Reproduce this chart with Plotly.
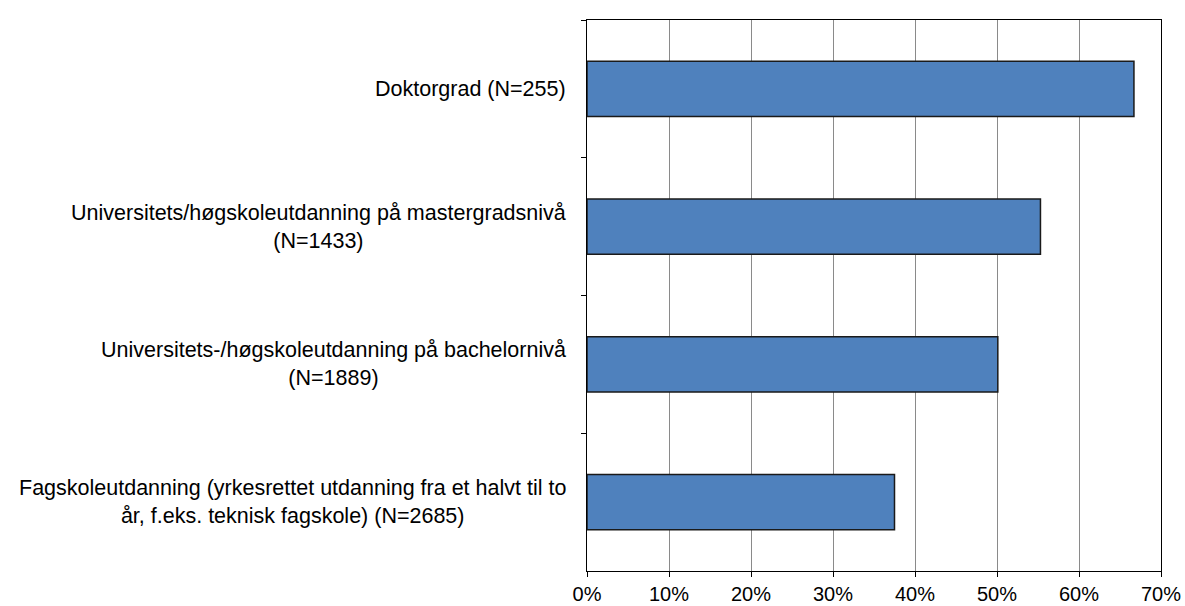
import plotly.graph_objects as go

categories = [
    "Doktorgrad (N=255)",
    "Universitets/høgskoleutdanning på mastergradsnivå<br>(N=1433)",
    "Universitets-/høgskoleutdanning på bachelornivå<br>(N=1889)",
    "Fagskoleutdanning (yrkesrettet utdanning fra et halvt til to<br>år, f.eks. teknisk fagskole) (N=2685)",
]
values = [0.667, 0.553, 0.501, 0.375]
x_ticks = [0, 0.1, 0.2, 0.3, 0.4, 0.5, 0.6, 0.7]
x_ticklabels = ["0%", "10%", "20%", "30%", "40%", "50%", "60%", "70%"]

FONT = "Liberation Sans, Arial, sans-serif"

fig = go.Figure()
fig.add_trace(go.Bar(
    x=values,
    y=categories,
    orientation="h",
    marker=dict(color="#4F81BD", line=dict(color="#1a1a1a", width=1.5)),
    hoverinfo="x+y",
))

for cat in categories:
    fig.add_annotation(
        x=0, xref="paper", y=cat, yref="y",
        text=cat, showarrow=False, xanchor="right", yanchor="middle",
        align="center", xshift=-19,
        font=dict(family=FONT, size=21.5, color="#000000"),
    )

fig.update_layout(
    template="none",
    width=1185, height=606,
    margin=dict(l=587, r=24, t=20, b=35, autoexpand=False),
    paper_bgcolor="white", plot_bgcolor="white",
    bargap=0.6,
    showlegend=False,
    font=dict(family=FONT, size=20, color="#000000"),
)
fig.update_xaxes(
    automargin=False,
    range=[0, 0.7],
    tickvals=x_ticks, ticktext=x_ticklabels,
    showgrid=True, gridcolor="#8a8a8a", gridwidth=1,
    showline=True, linecolor="#000000", linewidth=1, mirror=True,
    ticks="outside", ticklen=5, tickcolor="#000000",
    ticklabelstandoff=0,
    zeroline=False,
    tickfont=dict(family=FONT, size=20, color="#000000"),
)
fig.update_yaxes(
    automargin=False,
    categoryorder="array", categoryarray=categories,
    autorange="reversed",
    showticklabels=False,
    showline=True, linecolor="#000000", linewidth=1, mirror=True,
    ticks="outside", ticklen=5, tickcolor="#000000",
    tickson="boundaries",
    showgrid=False, zeroline=False,
)

fig.write_html("out.html", post_script="document.body.style.margin='0';",
               config={"displayModeBar": False})
